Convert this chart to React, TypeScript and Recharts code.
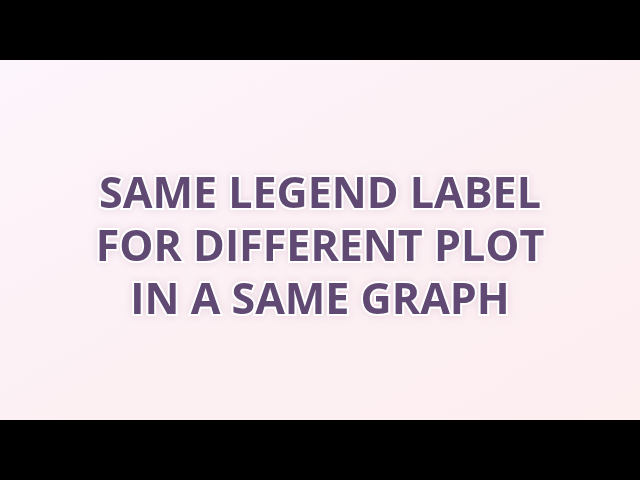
import { Surface, Text } from 'recharts'

// Title card: three centred lines of text on a pale gradient, letterboxed
const titleLines = ['SAME LEGEND LABEL', 'FOR DIFFERENT PLOT', 'IN A SAME GRAPH']

const W = 640
const H = 480

export default function App() {
  return (
    <div style={{ position: 'absolute', left: 0, top: 0, width: W, height: H, background: '#000' }}>
      <Surface width={W} height={H} viewBox={{ x: 0, y: 0, width: W, height: H }}>
        <defs>
          <linearGradient id="bg" x1="0" y1="0" x2="1" y2="1">
            <stop offset="0%" stopColor="#fdf5fc" />
            <stop offset="55%" stopColor="#fcf0f3" />
            <stop offset="100%" stopColor="#fdeef0" />
          </linearGradient>
          <filter id="glow" x="-10%" y="-30%" width="120%" height="160%">
            <feGaussianBlur in="SourceAlpha" stdDeviation="4" result="b" />
            <feFlood floodColor="#c8a8c0" floodOpacity="0.35" />
            <feComposite in2="b" operator="in" result="s" />
            <feMerge>
              <feMergeNode in="s" />
              <feMergeNode in="SourceGraphic" />
            </feMerge>
          </filter>
        </defs>
        <rect x={0} y={60} width={W} height={360} fill="url(#bg)" />
        <g filter="url(#glow)">
          {titleLines.map((line, i) => (
            <Text
              key={line}
              x={W / 2}
              y={208 + i * 53}
              textAnchor="middle"
              fontFamily="Open Sans, sans-serif"
              fontWeight={700}
              fontSize={43}
              fill="#604872"
              stroke="#ffffff"
              strokeWidth={4}
              paintOrder="stroke"
            >
              {line}
            </Text>
          ))}
        </g>
      </Surface>
    </div>
  )
}
